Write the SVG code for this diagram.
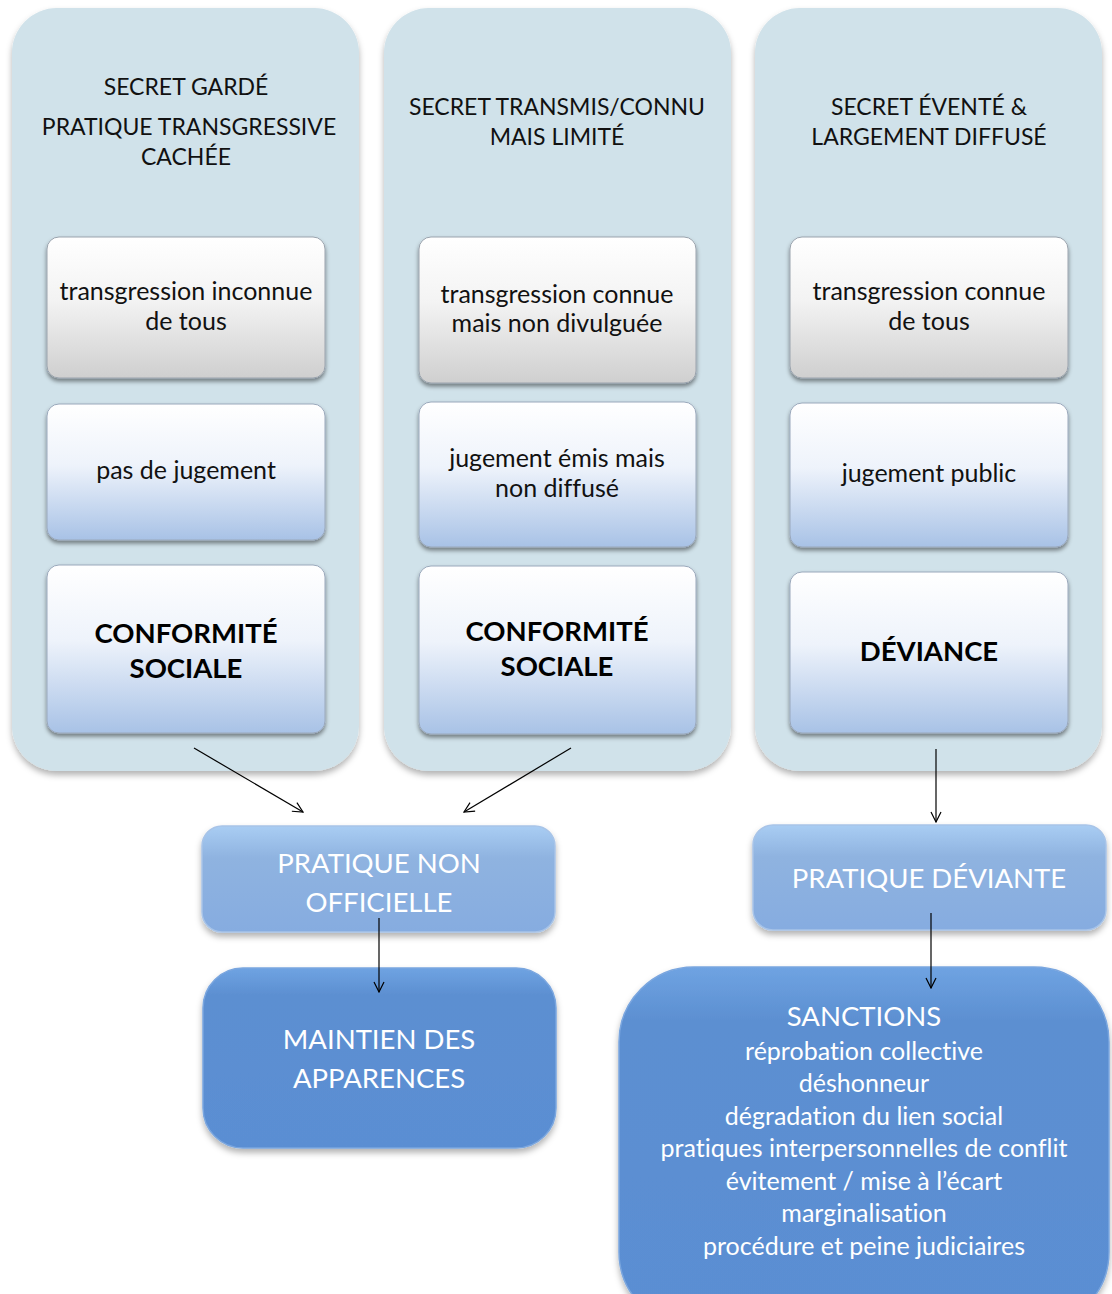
<svg xmlns="http://www.w3.org/2000/svg" width="1112" height="1294" viewBox="0 0 1112 1294">
<defs>
<filter id="sh" x="-10%" y="-10%" width="120%" height="125%"><feDropShadow dx="0" dy="4" stdDeviation="3" flood-color="#000" flood-opacity="0.3"/></filter>
<filter id="sh2" x="-10%" y="-10%" width="120%" height="125%"><feDropShadow dx="0" dy="3" stdDeviation="2" flood-color="#000" flood-opacity="0.45"/></filter>
<linearGradient id="gGrey" x1="0" y1="0" x2="0" y2="1"><stop offset="0" stop-color="#ffffff"/><stop offset="0.45" stop-color="#f3f3f3"/><stop offset="1" stop-color="#cfcfcf"/></linearGradient>
<linearGradient id="gBlue" x1="0" y1="0" x2="0" y2="1"><stop offset="0" stop-color="#ffffff"/><stop offset="0.45" stop-color="#eef3fb"/><stop offset="1" stop-color="#a8c2e6"/></linearGradient>
<linearGradient id="gMid" x1="0" y1="0" x2="0" y2="1"><stop offset="0" stop-color="#a9cdf3"/><stop offset="0.3" stop-color="#8fb3e0"/><stop offset="1" stop-color="#86ace0"/></linearGradient>
<linearGradient id="gDark" x1="0" y1="0" x2="0" y2="1"><stop offset="0" stop-color="#6fa3e2"/><stop offset="0.15" stop-color="#5c8fd1"/><stop offset="1" stop-color="#5a8ed3"/></linearGradient>
<marker id="arr" viewBox="0 0 12 12" refX="11" refY="6" markerWidth="12" markerHeight="12" markerUnits="userSpaceOnUse" orient="auto"><path d="M1,1 L11,6 L1,11" fill="none" stroke="#000" stroke-width="1.2"/></marker>
<style>
.panel{fill:#d0e2ea;filter:url(#sh)}
.boxG{fill:url(#gGrey);stroke:#9aa3ad;stroke-width:1;filter:url(#sh2)}
.boxB{fill:url(#gBlue);stroke:#9aa8bb;stroke-width:1;filter:url(#sh2)}
.mid{fill:url(#gMid);stroke:#a8c4e8;stroke-width:1.5;filter:url(#sh)}
.dark{fill:url(#gDark);stroke:#7aa6df;stroke-width:1.5;filter:url(#sh)}
text{font-family:Lato,"Open Sans","Liberation Sans",sans-serif;text-anchor:middle;font-variant-ligatures:none}
.hd{font-size:23px;fill:#111}
.t{font-size:25px;fill:#111}
.b{font-size:27.5px;font-weight:bold;fill:#000}
.w{font-size:27.5px;fill:#fff}
.ws{font-size:25px;fill:#fff}
.conn line{stroke:#000;stroke-width:1.2;marker-end:url(#arr)}
</style>
</defs>
<rect width="1112" height="1294" fill="#fff"/>

<g id="col1">
<rect class="panel" x="12" y="8" width="347" height="763" rx="45"/>
<text class="hd" x="186" y="95">SECRET GARDÉ</text>
<text class="hd" x="189" y="135">PRATIQUE TRANSGRESSIVE</text>
<text class="hd" x="186" y="165">CACHÉE</text>
</g>
<g id="c1b1"><rect class="boxG" x="47" y="237" width="278" height="141" rx="12"/>
<text class="t" x="186" y="300">transgression inconnue</text><text class="t" x="186" y="330">de tous</text></g>
<g id="c1b2"><rect class="boxB" x="47" y="404" width="278" height="136" rx="12"/>
<text class="t" x="186" y="479">pas de jugement</text></g>
<g id="c1b3"><rect class="boxB" x="47" y="565" width="278" height="168" rx="12"/>
<text class="b" x="186" y="643">CONFORMITÉ</text><text class="b" x="186" y="678">SOCIALE</text></g>

<g id="col2">
<rect class="panel" x="384" y="8" width="347" height="763" rx="45"/>
<text class="hd" x="557" y="115">SECRET TRANSMIS/CONNU</text>
<text class="hd" x="557" y="145">MAIS LIMITÉ</text>
</g>
<g id="c2b1"><rect class="boxG" x="419" y="237" width="277" height="146" rx="12"/>
<text class="t" x="557" y="303">transgression connue</text><text class="t" x="557" y="332">mais non divulguée</text></g>
<g id="c2b2"><rect class="boxB" x="419" y="402" width="277" height="145" rx="12"/>
<text class="t" x="557" y="467">jugement émis mais</text><text class="t" x="557" y="497">non diffusé</text></g>
<g id="c2b3"><rect class="boxB" x="419" y="566" width="277" height="168" rx="12"/>
<text class="b" x="557" y="641">CONFORMITÉ</text><text class="b" x="557" y="676">SOCIALE</text></g>

<g id="col3">
<rect class="panel" x="755" y="8" width="347" height="763" rx="45"/>
<text class="hd" x="929" y="115">SECRET ÉVENTÉ &amp;</text>
<text class="hd" x="929" y="145">LARGEMENT DIFFUSÉ</text>
</g>
<g id="c3b1"><rect class="boxG" x="790" y="237" width="278" height="141" rx="12"/>
<text class="t" x="929" y="300">transgression connue</text><text class="t" x="929" y="330">de tous</text></g>
<g id="c3b2"><rect class="boxB" x="790" y="403" width="278" height="144" rx="12"/>
<text class="t" x="929" y="482">jugement public</text></g>
<g id="c3b3"><rect class="boxB" x="790" y="572" width="278" height="161" rx="12"/>
<text class="b" x="929" y="661">DÉVIANCE</text></g>

<g id="nonOfficielle"><rect class="mid" x="202" y="826" width="353" height="106" rx="20"/>
<text class="w" x="379" y="873">PRATIQUE NON</text><text class="w" x="379" y="912">OFFICIELLE</text></g>
<g id="maintien"><rect class="dark" x="203" y="968" width="353" height="180" rx="40"/>
<text class="w" x="379" y="1049">MAINTIEN DES</text><text class="w" x="379" y="1088">APPARENCES</text></g>
<g id="deviante"><rect class="mid" x="753" y="825" width="353" height="105" rx="20"/>
<text class="w" x="929" y="888">PRATIQUE DÉVIANTE</text></g>
<g id="sanctions"><rect class="dark" x="619" y="967" width="490" height="360" rx="75"/>
<text class="w" x="864" y="1026">SANCTIONS</text>
<text class="ws" x="864" y="1060">réprobation collective</text>
<text class="ws" x="864" y="1092">déshonneur</text>
<text class="ws" x="864" y="1125">dégradation du lien social</text>
<text class="ws" x="864" y="1157">pratiques interpersonnelles de conflit</text>
<text class="ws" x="864" y="1190">évitement / mise à l’écart</text>
<text class="ws" x="864" y="1222">marginalisation</text>
<text class="ws" x="864" y="1255">procédure et peine judiciaires</text>
</g>

<g id="connectors" class="conn">
<line x1="194" y1="748" x2="303" y2="812"/>
<line x1="571" y1="748" x2="464" y2="812"/>
<line x1="936" y1="749" x2="936" y2="822"/>
<line x1="379" y1="918" x2="379" y2="992"/>
<line x1="931" y1="913" x2="931" y2="988"/>
</g>
</svg>
